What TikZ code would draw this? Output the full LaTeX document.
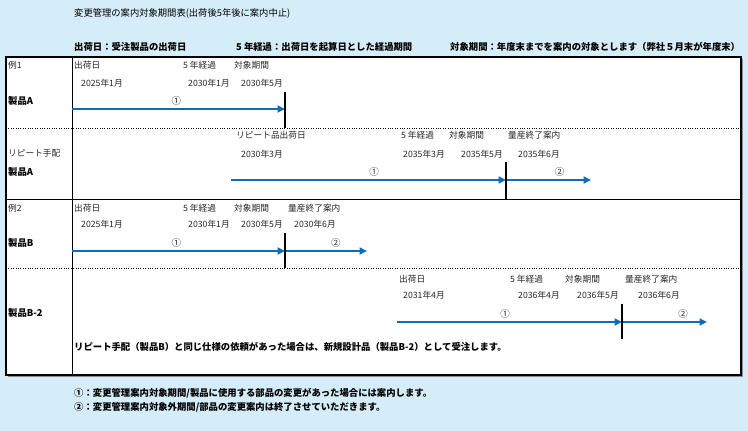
\documentclass[tikz,border=0pt]{standalone}
\usepackage{fontspec}
\setmainfont{Noto Sans CJK JP}
\usetikzlibrary{arrows.meta}
\definecolor{bgblue}{RGB}{213,236,249}
\definecolor{arrowblue}{RGB}{16,108,184}
\tikzset{
  lbl/.style={anchor=west,inner sep=0pt,text=black!85,font=\fontsize{8.7}{10}\selectfont},
  bld/.style={anchor=west,inner sep=0pt,font=\fontsize{9.35}{10}\selectfont\bfseries},
  circ/.style={above,inner sep=2.5pt,text=black!85,font=\fontsize{9.5}{10}\selectfont},
  period/.style={arrowblue,line width=2.3pt,-{Triangle[length=7.5pt,width=7pt]}},
  cutline/.style={line width=1.3pt}
}
\begin{document}
\begin{tikzpicture}[x=1pt,y=-1pt]
        \fill[bgblue] (0,0) rectangle (748,431);
        \useasboundingbox (0,0) rectangle (748,431);
        % table frame
        \fill[black!45] (7.5,58.5) rectangle (742.5,376.5);
        \filldraw[fill=white,draw=black,line width=1.1pt] (6,57) rectangle (741,375);
        \draw[line width=0.9pt] (72,57) -- (72,375);
        \draw[dotted] (6,128) -- (741,128);
        \draw[line width=0.9pt] (6,199) -- (741,199);
        \draw[dotted] (6,268) -- (741,268);
        % heading
        \draw (74,13) node[lbl,text=black,font=\fontsize{9.3}{10}\selectfont](title){変更管理の案内対象期間表(出荷後5年後に案内中止)};
        \draw (74,47) node[bld](keyship){出荷日：受注製品の出荷日};
        \draw (236,47) node[bld](keyfive){5 年経過：出荷日を起算日とした経過期間};
        \draw (450,47) node[bld](keyterm){対象期間：年度末までを案内の対象とします（弊社５月末が年度末）};
        % example 1
        \draw (8,65) node[lbl](ex1){例1};
        \draw (8,101) node[bld](prodA){製品A};
        \draw (74,65) node[lbl](a1ship){出荷日};
        \draw (183,65) node[lbl](a1five){5 年経過};
        \draw (234,65) node[lbl](a1term){対象期間};
        \draw (81,83) node[lbl](a1d1){2025年1月};
        \draw (188,83) node[lbl](a1d2){2030年1月};
        \draw (241,83) node[lbl](a1d3){2030年5月};
        \coordinate (a1s) at (72,109);
        \coordinate (a1e) at (285,109);
        \coordinate (c1t) at (285,92);
        \coordinate (c1b) at (285,128);
        % repeat order
        \draw (8,153) node[lbl](rep){リピート手配};
        \draw (8,172) node[bld](prodA2){製品A};
        \draw (236,135) node[lbl](a2ship){リピート品出荷日};
        \draw (401,135) node[lbl](a2five){5 年経過};
        \draw (449,135) node[lbl](a2term){対象期間};
        \draw (508,135) node[lbl](a2end){量産終了案内};
        \draw (241,154) node[lbl](a2d1){2030年3月};
        \draw (403,154) node[lbl](a2d2){2035年3月};
        \draw (461,154) node[lbl](a2d3){2035年5月};
        \draw (518,154) node[lbl](a2d4){2035年6月};
        \coordinate (a2s) at (231,180);
        \coordinate (a2m) at (506,180);
        \coordinate (a2e) at (591,180);
        \coordinate (c2t) at (506,162);
        \coordinate (c2b) at (506,199);
        % example 2
        \draw (8,208) node[lbl](ex2){例2};
        \draw (8,243) node[bld](prodB){製品B};
        \draw (74,208) node[lbl](b1ship){出荷日};
        \draw (183,208) node[lbl](b1five){5 年経過};
        \draw (234,208) node[lbl](b1term){対象期間};
        \draw (288,208) node[lbl](b1end){量産終了案内};
        \draw (81,224) node[lbl](b1d1){2025年1月};
        \draw (188,224) node[lbl](b1d2){2030年1月};
        \draw (241,224) node[lbl](b1d3){2030年5月};
        \draw (294,224) node[lbl](b1d4){2030年6月};
        \coordinate (b1s) at (72,251);
        \coordinate (b1m) at (285,251);
        \coordinate (b1e) at (367,251);
        \coordinate (c3t) at (285,233);
        \coordinate (c3b) at (285,268);
        % new design
        \draw (8,313) node[bld](prodB2){製品B-2};
        \draw (399,279) node[lbl](b2ship){出荷日};
        \draw (510,279) node[lbl](b2five){5 年経過};
        \draw (565,279) node[lbl](b2term){対象期間};
        \draw (625,279) node[lbl](b2end){量産終了案内};
        \draw (403,295) node[lbl](b2d1){2031年4月};
        \draw (518,295) node[lbl](b2d2){2036年4月};
        \draw (577,295) node[lbl](b2d3){2036年5月};
        \draw (638,295) node[lbl](b2d4){2036年6月};
        \coordinate (b2s) at (397,322);
        \coordinate (b2m) at (622,322);
        \coordinate (b2e) at (707,322);
        \coordinate (c4t) at (622,304);
        \coordinate (c4b) at (622,339);
        \draw (74,347) node[bld](note){リピート手配（製品B）と同じ仕様の依頼があった場合は、新規設計品（製品B-2）として受注します。};
        % periods
        \draw[period] (a1s) -- node[circ,pos=0.49]{①} (a1e);
        \draw[period] (a2s) -- node[circ,pos=0.52]{①} (a2m);
        \draw[period] (a2m) -- node[circ,pos=0.63]{②} (a2e);
        \draw[period] (b1s) -- node[circ,pos=0.49]{①} (b1m);
        \draw[period] (b1m) -- node[circ,pos=0.62]{②} (b1e);
        \draw[period] (b2s) -- node[circ,pos=0.48]{①} (b2m);
        \draw[period] (b2m) -- node[circ,pos=0.72]{②} (b2e);
        \draw[cutline]
          (c1t) -- (c1b)
          (c2t) -- (c2b)
          (c3t) -- (c3b)
          (c4t) -- (c4b)
        ;
        % footnotes
        \draw (74,393) node[bld](foot1){①：変更管理案内対象期間/製品に使用する部品の変更があった場合には案内します。};
        \draw (74,407) node[bld](foot2){②：変更管理案内対象外期間/部品の変更案内は終了させていただきます。};
      \end{tikzpicture}
\end{document}
